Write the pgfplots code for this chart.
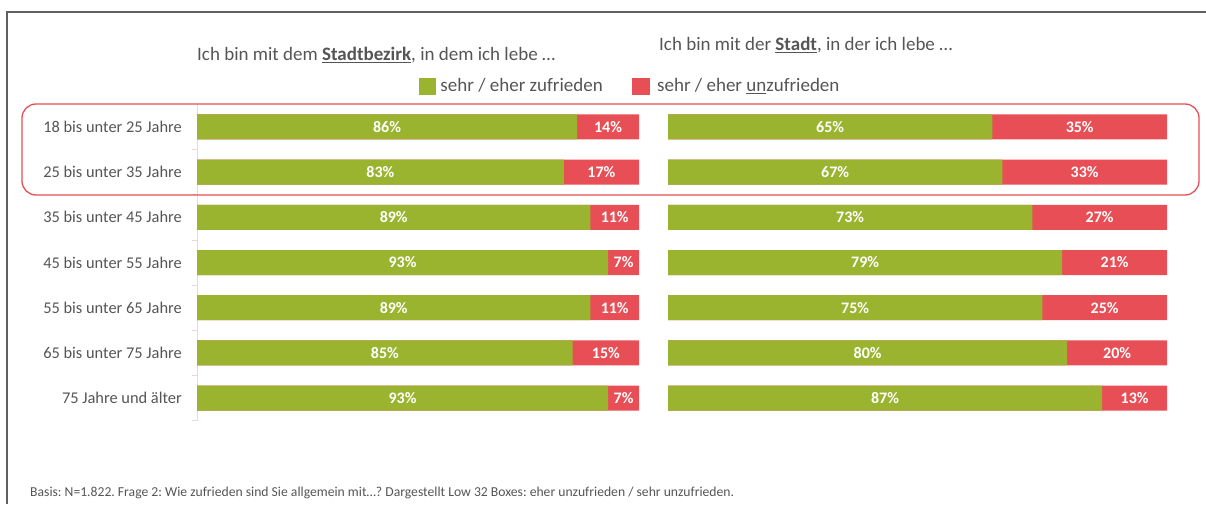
\documentclass[border=0pt]{standalone}
\usepackage{fontspec}
\setmainfont{Carlito}
\usepackage{pgfplots}
\usepackage{pgfplotstable}
\pgfplotsset{compat=1.18}
\definecolor{mygreen}{HTML}{9BB42F}
\definecolor{myred}{HTML}{E84E55}
\definecolor{txt}{HTML}{555555}
\definecolor{axpink}{HTML}{F6D3D5}
\definecolor{frame}{HTML}{606060}

\pgfplotstableread{
row z u
0 86 14
1 83 17
2 89 11
3 93 7
4 89 11
5 85 15
6 93 7
}\bezirk
\pgfplotstableread{
row z u
0 65 35
1 67 33
2 73 27
3 79 21
4 75 25
5 80 20
6 87 13
}\stadt

\pgfplotsset{
  barax/.style={scale only axis, height=316.2pt, xmin=0, xmax=100, ymin=-0.5, ymax=6.5, y dir=reverse, clip=false,
    /pgf/number format/assume math mode=true},
  redbar/.style={xbar, bar width=25pt, bar shift=0pt, fill=myred, draw=none, forget plot},
  greenbar/.style={xbar, bar width=25pt, bar shift=0pt, fill=mygreen, draw=none, forget plot},
  labs/.style={draw=none, mark=none, forget plot, point meta=explicit,
    nodes near coords={\pgfmathprintnumber[assume math mode=true]{\pgfplotspointmeta}\%},
    every node near coord/.style={anchor=center, text=white, inner sep=0pt, font=\bfseries\fontsize{16}{16}\selectfont}},
}

\begin{document}
\frenchspacing
\begin{tikzpicture}
\path[use as bounding box] (0pt,0pt) rectangle (1206pt,504pt);
\draw[color=frame, line width=1.2pt] (7pt,0pt) -- (7pt,492pt) -- (1206pt,492pt);

\node[anchor=base west, inner sep=0pt, text=txt, font=\fontsize{19}{19}\selectfont] at (197pt,443pt)
  {Ich bin mit dem \textbf{\underline{Stadtbezirk}}, in dem ich lebe \dots};
\node[anchor=base west, inner sep=0pt, text=txt, font=\fontsize{19}{19}\selectfont] at (659pt,453pt)
  {Ich bin mit der \textbf{\underline{Stadt}}, in der ich lebe \dots};

\begin{axis}[barax, at={(197pt,83.4pt)}, anchor=south west, width=442pt,
  axis x line=none, axis y line*=left,
  axis line style={draw=axpink, line width=0.8pt, -},
  ytick={0,...,6},
  yticklabels={18 bis unter 25 Jahre, 25 bis unter 35 Jahre, 35 bis unter 45 Jahre, 45 bis unter 55 Jahre, 55 bis unter 65 Jahre, 65 bis unter 75 Jahre, 75 Jahre und älter},
  major tick length=0pt,
  minor ytick={0.5,1.5,...,6.5},
  minor tick length=5pt, tick align=outside,
  minor tick style={draw=axpink, line width=0.8pt},
  yticklabel style={anchor=east, inner sep=0pt, xshift=-15pt, text=txt, font=\fontsize{16.4}{16.4}\selectfont},
  legend columns=2,
  legend style={at={(0.502,1.058)}, anchor=west, draw=none, fill=none, inner sep=0pt,
    text=txt, font=\fontsize{19}{19}\selectfont,
    /tikz/every even column/.append style={column sep=27pt}},
]
\addlegendimage{legend image code/.code={\fill[mygreen] (0pt,-8pt) rectangle (16pt,8pt);}}
\addlegendentry{\hspace{3pt}sehr / eher zufrieden}
\addlegendimage{legend image code/.code={\fill[myred] (0pt,-8pt) rectangle (17pt,8pt);}}
\addlegendentry{\hspace{6pt}sehr / eher \underline{un}zufrieden}
\addplot[redbar] table[x expr=\thisrow{z}+\thisrow{u}, y=row] {\bezirk};
\addplot[greenbar] table[x=z, y=row] {\bezirk};
\addplot[labs] table[x expr=\thisrow{z}/2, y=row, meta=z] {\bezirk};
\addplot[labs] table[x expr=\thisrow{z}+\thisrow{u}/2, y=row, meta=u] {\bezirk};
\end{axis}

\begin{axis}[barax, at={(668pt,83.4pt)}, anchor=south west, width=499pt, hide axis]
\addplot[redbar] table[x expr=\thisrow{z}+\thisrow{u}, y=row] {\stadt};
\addplot[greenbar] table[x=z, y=row] {\stadt};
\addplot[labs] table[x expr=\thisrow{z}/2, y=row, meta=z] {\stadt};
\addplot[labs] table[x expr=\thisrow{z}+\thisrow{u}/2, y=row, meta=u] {\stadt};
\end{axis}

\draw[myred, line width=1.3pt, rounded corners=14pt] (22pt,400pt) rectangle (1199pt,309pt);

\node[anchor=base west, inner sep=0pt, text=txt, font=\fontsize{13.65}{13.65}\selectfont] at (30pt,8pt)
  {Basis: N=1.822. Frage 2: Wie zufrieden sind Sie allgemein mit\dots? Dargestellt Low 32 Boxes: eher unzufrieden / sehr unzufrieden.};
\end{tikzpicture}
\end{document}
